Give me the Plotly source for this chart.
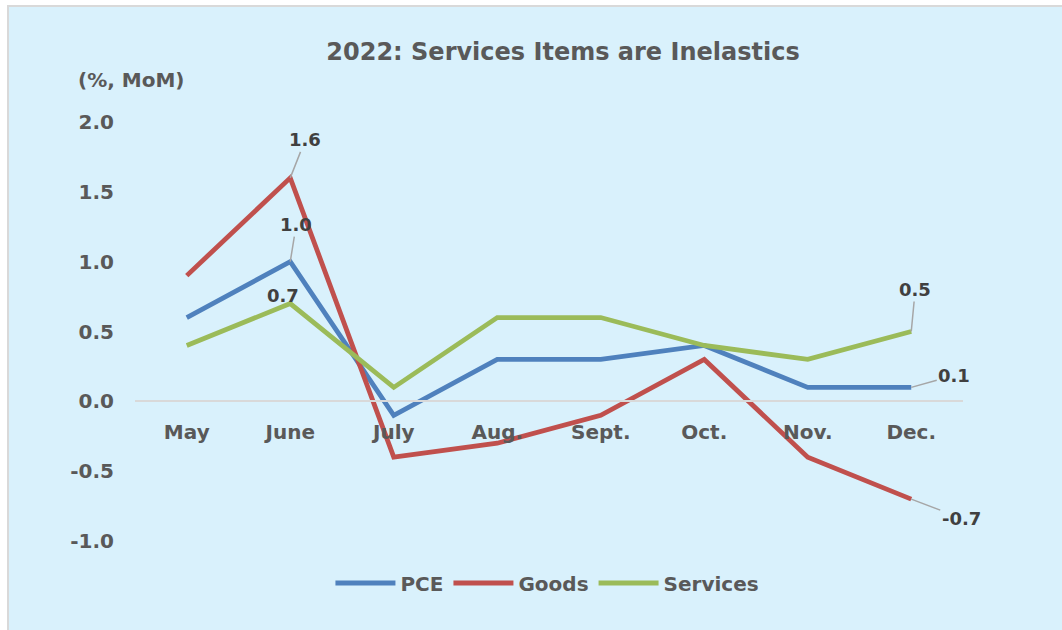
import plotly.graph_objects as go

months = ["May", "June", "July", "Aug.", "Sept.", "Oct.", "Nov.", "Dec."]
pce = [0.6, 1.0, -0.1, 0.3, 0.3, 0.4, 0.1, 0.1]
goods = [0.9, 1.6, -0.4, -0.3, -0.1, 0.3, -0.4, -0.7]
services = [0.4, 0.7, 0.1, 0.6, 0.6, 0.4, 0.3, 0.5]
y_ticks = [2.0, 1.5, 1.0, 0.5, 0.0, -0.5, -1.0]

C_PCE = "#4F81BD"
C_GOODS = "#C0504D"
C_SERV = "#9BBB59"
TXT = "#595959"
FONT = "DejaVu Sans"

fig = go.Figure()
for name, vals, col in [("PCE", pce, C_PCE), ("Goods", goods, C_GOODS), ("Services", services, C_SERV)]:
    fig.add_trace(go.Scatter(x=list(range(len(months))), y=vals, name=f"<b>{name}</b>", mode="lines",
                             line=dict(color=col, width=4.8)))

# data labels (June and Dec.)
labels = [
    (1, goods[1], 15, -38),
    (1, pce[1], 6, -37),
    (1, services[1], -7, -8),
    (7, services[7], 4, -42),
    (7, pce[7], 43, -12),
    (7, goods[7], 50, 19),
]
for xi, v, ax, ay in labels:
    fig.add_annotation(x=xi, y=v, xref="x", yref="y", text=f"<b>{v:.1f}</b>",
                       showarrow=True, arrowhead=0, arrowwidth=1.5, arrowcolor="#A6A6A6",
                       ax=ax, ay=ay, standoff=0,
                       font=dict(family=FONT, size=18, color="#404040"))

fig.add_annotation(text="<b>(%, MoM)</b>", xref="paper", yref="paper",
                   x=(76 - 135) / 828, y=(541 - 80) / 419, xanchor="left", yanchor="middle",
                   showarrow=False, font=dict(family=FONT, size=20, color=TXT))

# chart area background with border
fig.add_shape(type="rect", xref="paper", yref="paper",
              x0=(8 - 135) / 828, x1=(1075 - 135) / 828,
              y0=(541 - 640) / 419, y1=(541 - 6) / 419,
              fillcolor="#D9F1FC", line=dict(color="#D9D9D9", width=2), layer="below")

fig.update_layout(
    width=1062, height=630,
    margin=dict(l=135, r=99, t=122, b=89),
    paper_bgcolor="white", plot_bgcolor="rgba(0,0,0,0)",
    title=dict(text="<b>2022: Services Items are Inelastics</b>", x=563 / 1062, xanchor="center",
               y=1 - 52 / 630, yanchor="middle",
               font=dict(family=FONT, size=24, color=TXT)),
    font=dict(family=FONT, color=TXT),
    showlegend=True,
    legend=dict(orientation="h", x=529 / 1062, xanchor="center", y=(541 - 583) / 419, yanchor="middle",
                font=dict(family=FONT, size=20, color=TXT), bgcolor="rgba(0,0,0,0)",
                itemwidth=60, tracegroupgap=0),
    xaxis=dict(range=[-0.5, 7.5], tickmode="array", tickvals=list(range(len(months))),
               ticktext=[f"<b>{m}</b>" for m in months], showgrid=False,
               anchor="free", position=1 / 3, showline=True, linecolor="#D9D9D9", linewidth=2,
               ticks="", ticklabelstandoff=13, tickfont=dict(family=FONT, size=20, color=TXT),
               zeroline=False),
    yaxis=dict(range=[-1.0, 2.0], tickmode="array", tickvals=y_ticks,
               ticktext=[f"<b>{t:.1f}</b>" for t in y_ticks], showgrid=False, zeroline=False,
               showline=False, ticks="", ticklabelstandoff=20,
               tickfont=dict(family=FONT, size=20, color=TXT)),
)

fig.write_html("out.html")
